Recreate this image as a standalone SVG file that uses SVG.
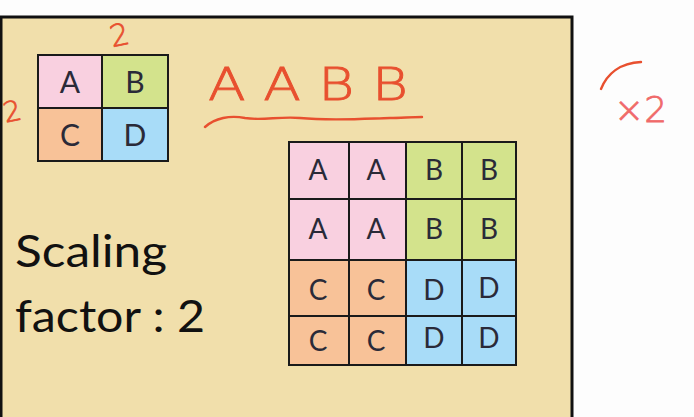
<svg xmlns="http://www.w3.org/2000/svg" width="694" height="417" viewBox="0 0 694 417">
<style>
.cell{stroke:#1a1a1a;stroke-width:2}
.a{fill:#f9d0e0}.b{fill:#d3e38c}.c{fill:#f8c298}.d{fill:#a8dcf8}
.lbl{font-family:Lato,"Open Sans","Liberation Sans",sans-serif;font-size:28px;fill:#2a2a38;text-anchor:middle;dominant-baseline:central}
.sm{font-size:30px}
.big{font-family:Lato,"Open Sans","Liberation Sans",sans-serif;font-size:44px;fill:#111}
.ink{fill:none;stroke:#e8502f;stroke-width:2.4;stroke-linecap:round;stroke-linejoin:round}
.hand{font-family:"DejaVu Sans","Liberation Sans",sans-serif;font-weight:300;fill:#e8502f;stroke:#e8502f;stroke-width:0.8}
</style>
<rect x="0" y="0" width="694" height="417" fill="#fdfdfd"/>
<rect x="1" y="17" width="571" height="420" fill="#f1dfab" stroke="#111" stroke-width="3"/>

<g id="small-grid">
<rect class="cell a" x="38" y="55" width="64" height="53"/>
<rect class="cell b" x="102" y="55" width="66" height="53"/>
<rect class="cell c" x="38" y="108" width="64" height="53"/>
<rect class="cell d" x="102" y="108" width="66" height="53"/>
<text class="lbl sm" x="70" y="81">A</text>
<text class="lbl sm" x="135" y="81">B</text>
<text class="lbl sm" x="70" y="134">C</text>
<text class="lbl sm" x="135" y="134">D</text>
</g>

<g id="big-grid">
<rect class="cell a" x="289" y="142" width="60" height="57"/>
<rect class="cell a" x="349" y="142" width="57" height="57"/>
<rect class="cell b" x="406" y="142" width="56" height="57"/>
<rect class="cell b" x="462" y="142" width="54" height="57"/>
<rect class="cell a" x="289" y="199" width="60" height="61"/>
<rect class="cell a" x="349" y="199" width="57" height="61"/>
<rect class="cell b" x="406" y="199" width="56" height="61"/>
<rect class="cell b" x="462" y="199" width="54" height="61"/>
<rect class="cell c" x="289" y="260" width="60" height="56"/>
<rect class="cell c" x="349" y="260" width="57" height="56"/>
<rect class="cell d" x="406" y="260" width="56" height="56"/>
<rect class="cell d" x="462" y="260" width="54" height="56"/>
<rect class="cell c" x="289" y="316" width="60" height="49"/>
<rect class="cell c" x="349" y="316" width="57" height="49"/>
<rect class="cell d" x="406" y="316" width="56" height="49"/>
<rect class="cell d" x="462" y="316" width="54" height="49"/>
<text class="lbl" x="318" y="169">A</text>
<text class="lbl" x="376" y="169">A</text>
<text class="lbl" x="434" y="169">B</text>
<text class="lbl" x="489" y="169">B</text>
<text class="lbl" x="318" y="228">A</text>
<text class="lbl" x="376" y="228">A</text>
<text class="lbl" x="434" y="228">B</text>
<text class="lbl" x="489" y="228">B</text>
<text class="lbl" x="318" y="289">C</text>
<text class="lbl" x="376" y="289">C</text>
<text class="lbl" x="434" y="289">D</text>
<text class="lbl" x="489" y="287">D</text>
<text class="lbl" x="318" y="340">C</text>
<text class="lbl" x="376" y="340">C</text>
<text class="lbl" x="434" y="337">D</text>
<text class="lbl" x="489" y="337">D</text>
</g>

<g id="caption">
<text class="big" x="15" y="267" textLength="152" lengthAdjust="spacingAndGlyphs">Scaling</text>
<text class="big" x="15" y="332" textLength="190" lengthAdjust="spacingAndGlyphs">factor : 2</text>
</g>

<g id="annotations">
<text class="hand" x="110" y="45" font-size="30" transform="rotate(-12 122 35)">2</text>
<text class="hand" x="3" y="121" font-size="28" transform="rotate(-12 12 110)">2</text>
<text class="hand" x="208" y="100" font-size="44" textLength="200" lengthAdjust="spacingAndGlyphs">A A B B</text>
<path class="ink" d="M205 127 C215 118 230 115 245 118 C262 121 280 116 300 118 C330 121 360 119 390 118 C400 118 412 117 422 117"/>
<path class="ink" d="M601 89 C607 74 620 63 641 62" stroke="#f06a6a"/>
<text class="hand" x="614" y="122" font-size="36" style="fill:#f06a6a;stroke:#f06a6a">×2</text>
</g>
</svg>
